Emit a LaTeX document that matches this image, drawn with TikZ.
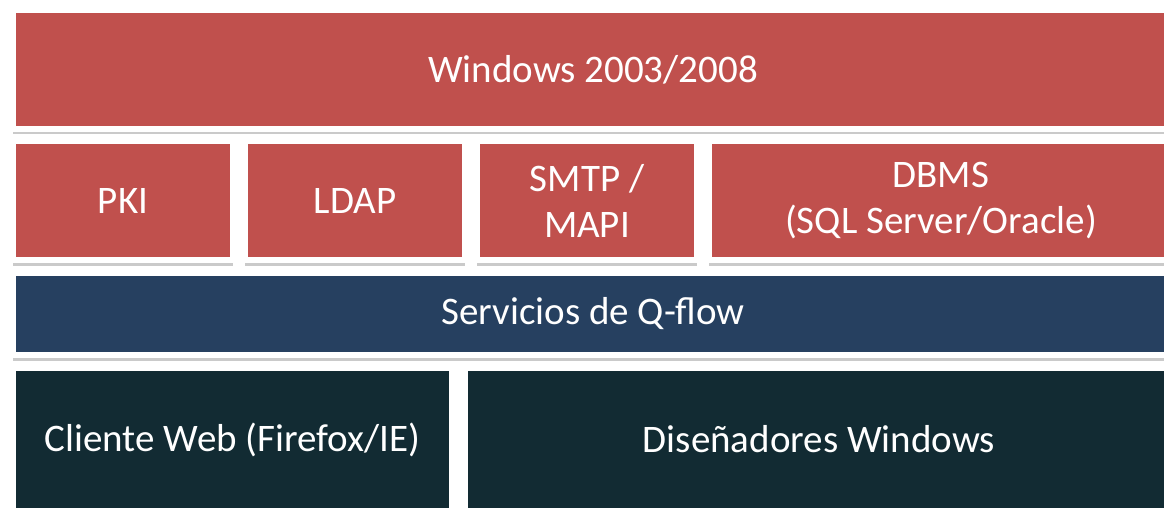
\documentclass[tikz,border=0pt]{standalone}
\usepackage{fontspec}
\setmainfont{Carlito}
\usetikzlibrary{shadows}
\definecolor{redbox}{RGB}{192,80,77}
\definecolor{bluebox}{RGB}{38,64,96}
\definecolor{darkbox}{RGB}{18,43,51}
\tikzset{
  layer/.style={rectangle, draw=white, line width=6pt, inner sep=0pt, anchor=north west,
    text=white, align=center, font=\fontsize{39}{46}\selectfont,
    drop shadow={shadow xshift=0pt, shadow yshift=-5.5pt, fill=black!60, opacity=0.35}},
  redlayer/.style={layer, fill=redbox},
  bluelayer/.style={layer, fill=bluebox},
  darklayer/.style={layer, fill=darkbox}
}
\begin{document}
\begin{tikzpicture}[x=1pt,y=-1pt]
\useasboundingbox (0,0) rectangle (1164,508);
\begin{scope}
\clip (0,0) rectangle (1164,508);
\node[redlayer, minimum width=1160pt, minimum height=119pt] (win) at (10,7) {Windows 2003/2008};
\node[redlayer, minimum width=220pt, minimum height=119pt] (pki) at (10,138) {PKI};
\node[redlayer, minimum width=220pt, minimum height=119pt] (ldap) at (242,138) {LDAP};
\node[redlayer, minimum width=220pt, minimum height=119pt] (smtp) at (474,138) {SMTP /\\MAPI};
\node[redlayer, minimum width=464pt, minimum height=119pt] (dbms) at (706,138) {DBMS\\(SQL Server/Oracle)};
\node[bluelayer, minimum width=1160pt, minimum height=82pt] (qflow) at (10,270) {Servicios de Q-flow};
\node[darklayer, minimum width=439pt, minimum height=143pt] (web) at (10,365) {Cliente Web (Firefox/IE)};
\node[darklayer, minimum width=708pt, minimum height=143pt] (dis) at (462,365) {Diseñadores Windows};
\end{scope}
\end{tikzpicture}
\end{document}
